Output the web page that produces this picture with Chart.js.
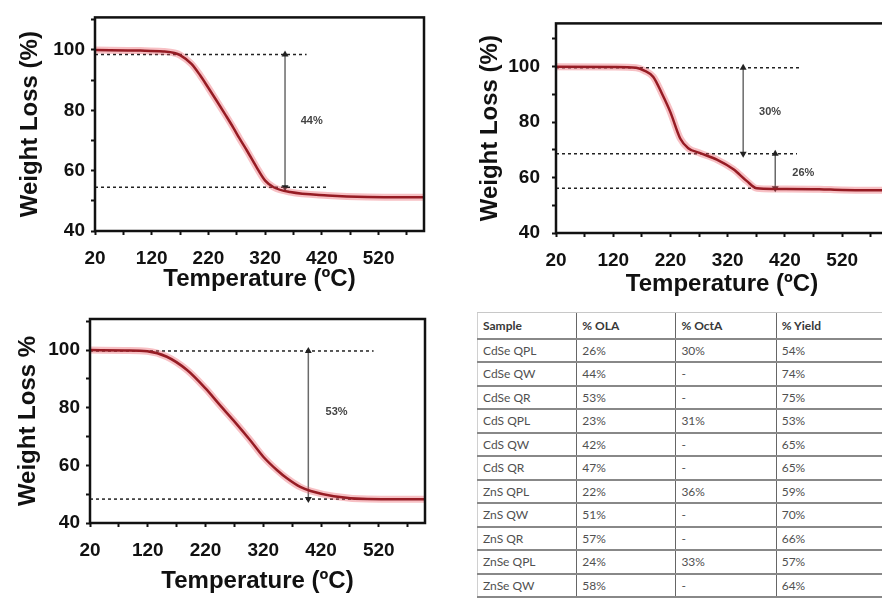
<!DOCTYPE html>
<html>
<head>
<meta charset="utf-8">
<script src="https://cdn.jsdelivr.net/npm/chart.js@4.4.1/dist/chart.umd.min.js"></script>
<style>
  body { margin: 0; width: 882px; height: 609px; overflow: hidden; background: #fff; position: relative; }
  canvas { position: absolute; }
  #qw { left: 0; top: 0; }
  #qpl { left: 440px; top: 0; }
  #qr { left: 0; top: 300px; }
  #tbl { position: absolute; left: 477px; top: 312px; border-collapse: collapse; table-layout: fixed;
         font-family: Lato, "Open Sans", sans-serif; font-size: 12px; color: #505050; }
  #tbl td { padding: 0 0 0 5px; border-bottom: 2px solid #888; border-left: 1px solid #666; white-space: nowrap; overflow: hidden; }
  #tbl td:first-child { border-left: 1px solid #d0d0d0; }
  #tbl tr { height: 23.5px; }
  #tbl tr.head { height: 26px; }
  #tbl tr.head td { font-weight: bold; color: #383838; border-top: 1px solid #c8c8c8; }
</style>
</head>
<body>
<canvas id="qw" width="440" height="300"></canvas>
<canvas id="qpl" width="460" height="300"></canvas>
<canvas id="qr" width="440" height="309"></canvas>
<table id="tbl"></table>
<script>
// TGA curves: temperature (ºC) vs weight remaining (%)
const tempQW = [20, 100, 140, 160, 170, 190, 205, 220, 235, 250, 264, 275, 288, 305, 320, 335, 364, 430, 500, 600];
const lossQW = [100, 99.8, 99.5, 99, 98.3, 95.4, 91.7, 87.4, 83, 78.5, 74.2, 70.6, 66.6, 61.1, 56.7, 54.5, 52.9, 51.8, 51.3, 51.2];

const tempQPL = [20, 120, 160, 175, 190, 205, 220, 237, 251, 272, 301, 330, 353, 371, 400, 480, 520, 600];
const lossQPL = [100, 99.9, 99.6, 98.5, 96.3, 90.3, 83.5, 74.1, 70.6, 68.8, 66.5, 63, 58.8, 56.1, 55.9, 55.8, 55.5, 55.4];

const tempQR = [20, 80, 119, 153, 188, 220, 245, 268, 297, 320, 344, 361, 384, 402, 442, 500, 600];
const lossQR = [100, 99.9, 99.6, 97.7, 93.1, 86.7, 80.9, 75.7, 68.8, 63, 58.3, 55.5, 52.5, 51.1, 49.3, 48.3, 48.2];

// dashed guide levels, where each guide ends, arrows between guides, and the % notes
const guideQW = [98.5, 54.5];
const guideEndQW = [393, 431];
const arrowQW = [355];
const noteQW = ['44%'];
const noteTempQW = [402];
const noteLossQW = [76.4];

const guideQPL = [99.6, 68.6, 56.1];
const guideEndQPL = [449, 441, 371];
const arrowQPL = [347, 403];
const noteQPL = ['30%', '26%'];
const noteTempQPL = [394, 452];
const noteLossQPL = [83.5, 61.8];

const guideQR = [99.7, 48.3];
const guideEndQR = [511, 511];
const arrowQR = [398];
const noteQR = ['53%'];
const noteTempQR = [447];
const noteLossQR = [78.6];

const xTickMarks = [20, 70, 120, 170, 220, 270, 320, 370, 420, 470, 520, 570];
const xTickLabels = [20, 120, 220, 320, 420, 520];
const yTickMarks = [40, 50, 60, 70, 80, 90, 100, 110];
const yTickLabels = [40, 60, 80, 100];

// table
const tableHead = ['Sample', '% OLA', '% OctA', '% Yield'];
const samples = ['CdSe QPL', 'CdSe QW', 'CdSe QR', 'CdS QPL', 'CdS QW', 'CdS QR', 'ZnS QPL', 'ZnS QW', 'ZnS QR', 'ZnSe QPL', 'ZnSe QW'];
const olaPct = ['26%', '44%', '53%', '23%', '42%', '47%', '22%', '51%', '57%', '24%', '58%'];
const octaPct = ['30%', '-', '-', '31%', '-', '-', '36%', '-', '-', '33%', '-'];
const yieldPct = ['54%', '74%', '75%', '53%', '65%', '65%', '59%', '70%', '66%', '57%', '64%'];

Chart.defaults.font.family = '"Liberation Sans", Arial, sans-serif';

const frameAndNotes = {
  id: 'notes',
  afterDatasetsDraw(chart, args, opts) {
    const { ctx, chartArea: a, scales } = chart;
    ctx.save();
    ctx.fillStyle = '#444';
    ctx.font = 'bold 11px "Liberation Sans", Arial, sans-serif';
    ctx.textAlign = 'center';
    ctx.textBaseline = 'middle';
    opts.texts.forEach((t, i) => {
      ctx.fillText(t, scales.x.getPixelForValue(opts.temps[i]), scales.y.getPixelForValue(opts.losses[i]));
    });
    ctx.strokeStyle = '#111';
    ctx.lineWidth = 2.5;
    ctx.strokeRect(a.left, a.top, a.right - a.left, a.bottom - a.top);
    ctx.restore();
  }
};

function tgaChart(id, temps, losses, guides, guideEnds, arrows, notes, noteTemps, noteLosses, yMax, yTitle, geo) {
  const curve = temps.map((t, i) => ({ x: t, y: losses[i] }));
  const datasets = [
    { data: curve, borderColor: '#961c24', borderWidth: 2.5, pointRadius: 0, cubicInterpolationMode: 'monotone' },
    { data: curve, borderColor: 'rgba(235,90,100,0.38)', borderWidth: 7, pointRadius: 0, cubicInterpolationMode: 'monotone' }
  ];
  guides.forEach((g, i) => {
    datasets.push({ data: [{ x: 20, y: g }, { x: guideEnds[i], y: g }], borderColor: '#222', borderWidth: 1.5, borderDash: [3, 3], pointRadius: 0 });
  });
  arrows.forEach((a, i) => {
    datasets.push({
      data: [{ x: a, y: guides[i] }, { x: a, y: guides[i + 1] }],
      borderColor: '#6a6a6a', borderWidth: 1.5,
      pointStyle: 'triangle', pointRadius: 4, pointRotation: [0, 180],
      pointBackgroundColor: '#222', pointBorderColor: '#222', pointBorderWidth: 0
    });
  });
  const tickFont = { size: 19, weight: 'bold' };
  const titleFont = { size: 24, weight: 'bold' };
  return new Chart(document.getElementById(id), {
    type: 'line',
    data: { datasets },
    plugins: [frameAndNotes],
    options: {
      responsive: false,
      animation: false,
      events: [],
      layout: { padding: { top: geo.pt, right: geo.pr, left: 0, bottom: 0 } },
      plugins: {
        legend: { display: false },
        tooltip: { enabled: false },
        notes: { texts: notes, temps: noteTemps, losses: noteLosses }
      },
      scales: {
        x: {
          type: 'linear', min: 20, max: 600,
          afterBuildTicks: s => { s.ticks = xTickMarks.map(v => ({ value: v })); },
          afterFit: s => { s.height = geo.xh; },
          ticks: { autoSkip: false, maxRotation: 0, padding: 12, color: '#111', font: tickFont,
                   callback: v => xTickLabels.includes(v) ? String(v) : '' },
          grid: { drawOnChartArea: false, tickLength: 4, tickColor: '#111', tickWidth: 2 },
          border: { display: false },
          title: { display: true, text: 'Temperature (ºC)', color: '#111', font: titleFont, padding: { top: 0, bottom: geo.xtp } }
        },
        y: {
          min: 40, max: yMax,
          afterBuildTicks: s => { s.ticks = yTickMarks.filter(v => v <= yMax).map(v => ({ value: v })); },
          afterFit: s => { s.width = geo.yw; },
          ticks: { autoSkip: false, padding: geo.ytp, color: '#111', font: tickFont,
                   callback: v => yTickLabels.includes(v) ? String(v) : '' },
          grid: { drawOnChartArea: false, tickLength: 4, tickColor: '#111', tickWidth: 2 },
          border: { display: false },
          title: { display: true, text: yTitle, color: '#111', font: titleFont, padding: { top: geo.ytl, bottom: 0 } }
        }
      }
    }
  });
}

tgaChart('qw', tempQW, lossQW, guideQW, guideEndQW, arrowQW, noteQW, noteTempQW, noteLossQW, 110.8, 'Weight Loss (%)',
  { pt: 15, pr: 16, xh: 69, yw: 95, xtp: 6, ytp: 6, ytl: 15.6, tf: 24 });
tgaChart('qpl', tempQPL, lossQPL, guideQPL, guideEndQPL, arrowQPL, noteQPL, noteTempQPL, noteLossQPL, 115.6, 'Weight Loss (%)',
  { pt: 19, pr: 12, xh: 67, yw: 116, xtp: 1, ytp: 12, ytl: 35.6, tf: 24 });
tgaChart('qr', tempQR, lossQR, guideQR, guideEndQR, arrowQR, noteQR, noteTempQR, noteLossQR, 110.8, 'Weight Loss %',
  { pt: 19, pr: 15, xh: 86, yw: 90, xtp: 13, ytp: 6, ytl: 14, tf: 24 });

// table of ligand content and yield
const tbl = document.getElementById('tbl');
const widths = [102, 103, 104, 110];
const colgroup = document.createElement('colgroup');
widths.forEach(w => { const c = document.createElement('col'); c.style.width = w + 'px'; colgroup.appendChild(c); });
tbl.appendChild(colgroup);
function addRow(cells, cls) {
  const tr = document.createElement('tr');
  if (cls) tr.className = cls;
  cells.forEach(c => { const td = document.createElement('td'); td.textContent = c; tr.appendChild(td); });
  tbl.appendChild(tr);
}
addRow(tableHead, 'head');
samples.forEach((s, i) => addRow([s, olaPct[i], octaPct[i], yieldPct[i]]));
</script>
</body>
</html>
